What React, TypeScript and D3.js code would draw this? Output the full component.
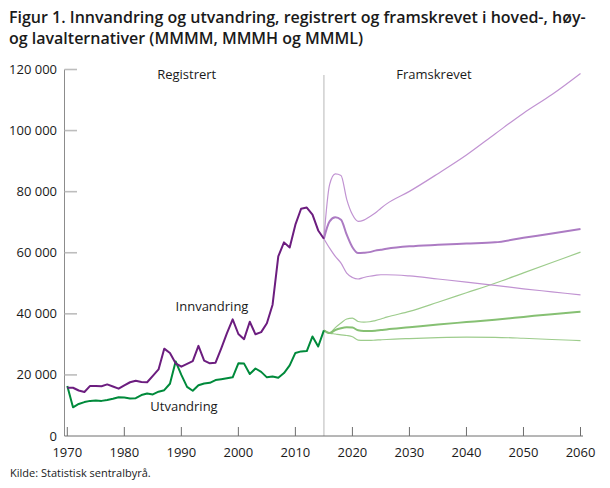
import React from 'react';
import * as d3 from 'd3';

// Registrert (1970-2015)
const regYears = d3.range(1970, 2016);
const innvandring = [
  15800, 15800, 14900, 14400, 16400, 16400, 16300, 16900, 16200, 15500,
  16600, 17600, 18100, 17700, 17600, 19700, 21800, 28600, 27200, 23800,
  22700, 23600, 24500, 29500, 24700, 23800, 24000, 28700, 33700, 38200,
  33400, 31700, 37400, 33300, 34000, 36900, 43000, 58800, 63400, 61700,
  69200, 74400, 74800, 72500, 67300, 64600,
];
const utvandring = [
  16400, 9400, 10500, 11100, 11500, 11600, 11500, 11800, 12200, 12700,
  12600, 12300, 12400, 13400, 13900, 13600, 14500, 15000, 17100, 24400,
  20000, 16100, 14800, 16600, 17200, 17400, 18300, 18600, 18900, 19200,
  23800, 23700, 20300, 22100, 21000, 19200, 19500, 19100, 20600, 23100,
  27200, 27700, 27800, 32600, 29300, 34600,
];

// Framskrevet (MMMH, MMMM, MMML)
const projYears = [
  2015, 2016, 2017, 2018, 2019, 2020, 2021, 2022, 2023, 2024, 2025, 2026,
  2030, 2035, 2040, 2045, 2050, 2055, 2060,
];
const innHigh = [
  64600, 82300, 85800, 85300, 77500, 72500, 70300, 70700, 71800, 73000, 74600, 76000,
  80100, 85900, 92000, 98900, 105700, 111800, 118700,
];
const innMid = [
  64600, 70300, 71600, 70800, 65900, 61800, 59900, 60000, 60200, 60700, 61000, 61300,
  62100, 62600, 63000, 63400, 64900, 66300, 67800,
];
const innLow = [
  64600, 61500, 58800, 56600, 53300, 51900, 51400, 51900, 52300, 52600, 52800, 52800,
  52400, 51400, 50400, 49300, 48200, 47200, 46200,
];
const utHigh = [
  34600, 33700, 35500, 37000, 38300, 38600, 37500, 37300, 37400, 37800, 38300, 38900,
  40800, 43800, 46900, 50000, 53400, 56800, 60200,
];
const utMid = [
  34600, 33700, 34700, 35300, 35600, 35500, 34600, 34400, 34400, 34500, 34700, 34900,
  35600, 36500, 37300, 38100, 39000, 39900, 40700,
];
const utLow = [
  34600, 33700, 33400, 33100, 32900, 32500, 31400, 31300, 31300, 31400, 31500, 31600,
  31900, 32200, 32350, 32300, 32000, 31600, 31250,
];

const xTicks = [1970, 1980, 1990, 2000, 2010, 2020, 2030, 2040, 2050, 2060];
const yTicks = [0, 20000, 40000, 60000, 80000, 100000, 120000];

const W = 610;
const H = 488;
const FONT = '"Open Sans", sans-serif';

export default function App() {
  const x = d3.scaleLinear().domain([1970, 2060]).range([67.3, 580.5]);
  const y = d3.scaleLinear().domain([0, 120000]).range([436, 69.5]);

  const fmt = (v: number) => d3.format(',')(v).replace(/,/g, ' ');

  const regLine = (vals: number[]) =>
    d3.line<number>()
      .x((_, i) => x(regYears[i]))
      .y(d => y(d))(vals) || '';

  const projLine = (vals: number[]) =>
    d3.line<number>()
      .x((_, i) => x(projYears[i]))
      .y(d => y(d))
      .curve(d3.curveMonotoneX)(vals) || '';

  const axisLeft = 64.5;
  const axisRight = 583;
  const split = x(2015);

  return (
    <svg width={W} height={H} style={{ position: 'absolute', left: 0, top: 0, background: '#fff' }}
      fontFamily={FONT}>
      {/* title */}
      <text x={9} y={23} fontSize={16} fontWeight={600} fill="#1a1a1a">
        Figur 1. Innvandring og utvandring, registrert og framskrevet i hoved-, høy-
      </text>
      <text x={9} y={43.5} fontSize={16} fontWeight={600} fill="#1a1a1a">
        og lavalternativer (MMMM, MMMH og MMML)
      </text>

      {/* y axis */}
      <line x1={axisLeft} x2={axisLeft} y1={y(120000)} y2={436} stroke="#8c8c8c" strokeWidth={1} />
      {yTicks.map(t => (
        <g key={t}>
          {t > 0 && (
            <line x1={axisLeft} x2={77} y1={y(t)} y2={y(t)} stroke="#bdbdbd" strokeWidth={1.6} />
          )}
          <text x={57} y={y(t)} dy="0.35em" textAnchor="end" fontSize={13} fill="#1a1a1a">
            {fmt(t)}
          </text>
        </g>
      ))}

      {/* split line */}
      <line x1={split} x2={split} y1={75} y2={436} stroke="#cfcfcf" strokeWidth={1.5} />

      {/* x axis */}
      <line x1={axisLeft} x2={axisRight} y1={436} y2={436} stroke="#6e6e6e" strokeWidth={1} />
      {xTicks.map(t => (
        <g key={t}>
          <line x1={x(t)} x2={x(t)} y1={427} y2={436} stroke="#6e6e6e" strokeWidth={1} />
          <text x={x(t)} y={457} textAnchor="middle" fontSize={13} fill="#1a1a1a">{t}</text>
        </g>
      ))}

      {/* projections */}
      <path d={projLine(utHigh)} fill="none" stroke="#9dcc8c" strokeWidth={1.2} />
      <path d={projLine(utLow)} fill="none" stroke="#9dcc8c" strokeWidth={1.2} />
      <path d={projLine(utMid)} fill="none" stroke="#86c073" strokeWidth={2} />
      <path d={projLine(innHigh)} fill="none" stroke="#c193d2" strokeWidth={1.2} />
      <path d={projLine(innLow)} fill="none" stroke="#c193d2" strokeWidth={1.2} />
      <path d={projLine(innMid)} fill="none" stroke="#ac7bc3" strokeWidth={2} />

      {/* registered */}
      <path d={regLine(utvandring)} fill="none" stroke="#008a3b" strokeWidth={2} strokeLinejoin="round" />
      <path d={regLine(innvandring)} fill="none" stroke="#6c1d7f" strokeWidth={2} strokeLinejoin="round" />

      {/* labels */}
      <text x={186.7} y={79} textAnchor="middle" fontSize={13} fill="#1a1a1a">Registrert</text>
      <text x={434} y={79} textAnchor="middle" fontSize={13} fill="#1a1a1a">Framskrevet</text>
      <text x={212} y={310.5} textAnchor="middle" fontSize={13} fill="#1a1a1a">Innvandring</text>
      <text x={184} y={410.5} textAnchor="middle" fontSize={13} fill="#1a1a1a">Utvandring</text>

      {/* source */}
      <text x={10} y={477} fontSize={11} fill="#1a1a1a">Kilde: Statistisk sentralbyrå.</text>
    </svg>
  );
}
